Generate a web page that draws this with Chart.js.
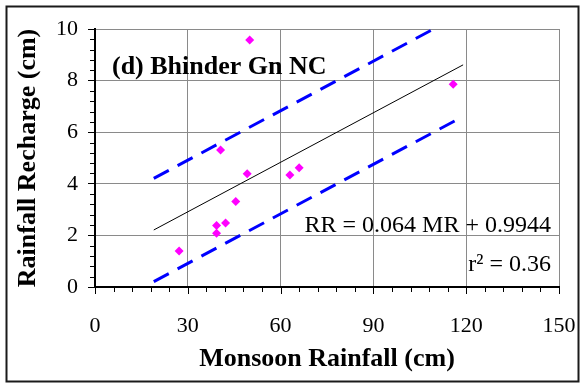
<!DOCTYPE html>
<html>
<head>
<meta charset="utf-8">
<script src="https://cdn.jsdelivr.net/npm/chart.js@4/dist/chart.umd.min.js"></script>
<style>
  html, body { margin: 0; padding: 0; background: #ffffff; }
  #wrap { width: 585px; height: 383px; }
</style>
</head>
<body>
<div id="wrap"><canvas id="c" width="585" height="383"></canvas></div>
<script>
// ---- data ----
const monsoonRainfall = [27.2, 39.3, 39.3, 42.2, 45.5, 40.6, 49.2, 50.0, 63.0, 66.0, 115.8];
const rainfallRecharge = [1.40, 2.38, 2.08, 2.48, 3.31, 5.31, 4.39, 9.57, 4.34, 4.62, 7.86];
const fitX = [19, 119];
const fitY = [2.21, 8.61];
const upperY = [4.21, 10.61];
const lowerY = [0.21, 6.61];
const xTicks = [0, 30, 60, 90, 120, 150];
const yTicks = [0, 2, 4, 6, 8, 10];
const panelLabel = '(d) Bhinder Gn NC';
const equationText = 'RR = 0.064 MR + 0.9944';
const r2Text = 'r\u00B2 = 0.36';
const xTitle = 'Monsoon Rainfall (cm)';
const yTitle = 'Rainfall Recharge (cm)';

const FONT = "'Liberation Serif', 'Times New Roman', serif";

const pts = monsoonRainfall.map((x, i) => ({ x, y: rainfallRecharge[i] }));
const toPts = (ys) => fitX.map((x, i) => ({ x, y: ys[i] }));

const decor = {
  id: 'decor',
  beforeDraw(chart) {
    const ctx = chart.ctx;
    ctx.save();
    ctx.fillStyle = '#ffffff';
    ctx.fillRect(0, 0, chart.width, chart.height);
    ctx.restore();
  },
  afterDraw(chart) {
    const ctx = chart.ctx;
    const xs = chart.scales.x, ys = chart.scales.y;
    const ca = chart.chartArea;
    ctx.save();
    // tick marks (major 7px, minor 5px)
    ctx.strokeStyle = '#000000';
    ctx.lineWidth = 1;
    ctx.beginPath();
    for (let i = 0; i <= 25; i++) {
      const len = (i % 5 === 0) ? 7 : 5;
      const px = Math.round(xs.getPixelForValue(i * 6)) + 0.5;
      ctx.moveTo(px, ca.bottom);
      ctx.lineTo(px, ca.bottom + len);
    }
    for (let i = 1; i < 25; i++) {
      if (i % 5 === 0) continue;
      const py = Math.round(ys.getPixelForValue(i * 0.4)) + 0.5;
      ctx.moveTo(ca.left - 5, py);
      ctx.lineTo(ca.left, py);
    }
    ctx.stroke();
    // annotations
    ctx.fillStyle = '#000000';
    ctx.textBaseline = 'alphabetic';
    ctx.font = "bold 26px " + FONT;
    ctx.textAlign = 'left';
    ctx.fillText(panelLabel, ca.left + 17, ca.top + 45);
    ctx.font = "24px " + FONT;
    ctx.textAlign = 'right';
    ctx.fillText(equationText, ca.right - 8, ca.top + 203);
    ctx.fillText(r2Text, ca.right - 8, ca.top + 242);
    // outer frame
    ctx.strokeStyle = '#1a1a1a';
    ctx.lineWidth = 2;
    ctx.strokeRect(6.5, 6.5, 572, 375);
    ctx.restore();
  }
};

new Chart(document.getElementById('c'), {
  type: 'scatter',
  data: {
    datasets: [
      {
        label: 'Observed',
        data: pts,
        pointStyle: 'rectRot',
        pointRadius: 4.5,
        backgroundColor: '#ff00ff',
        borderColor: '#ff00ff',
        borderWidth: 0,
        showLine: false
      },
      {
        label: 'Fit',
        type: 'line',
        data: toPts(fitY),
        borderColor: '#000000',
        borderWidth: 1,
        pointRadius: 0,
        fill: false
      },
      {
        label: 'Upper',
        type: 'line',
        data: toPts(upperY),
        borderColor: '#0000ff',
        borderWidth: 3,
        borderDash: [17, 10],
        pointRadius: 0,
        fill: false
      },
      {
        label: 'Lower',
        type: 'line',
        data: toPts(lowerY),
        borderColor: '#0000ff',
        borderWidth: 3,
        borderDash: [17, 10],
        pointRadius: 0,
        fill: false
      }
    ]
  },
  options: {
    responsive: false,
    animation: false,
    events: [],
    layout: { padding: { top: 29, right: 26, bottom: 0, left: 0 } },
    plugins: {
      legend: { display: false },
      tooltip: { enabled: false },
      title: { display: false }
    },
    scales: {
      x: {
        type: 'linear',
        min: 0, max: 150,
        afterBuildTicks(scale) { scale.ticks = xTicks.map(v => ({ value: v })); },
        afterFit(scale) { scale.height = 96; },
        grid: { color: '#8a8a8a', lineWidth: 1, tickColor: 'rgba(0,0,0,0)', tickLength: 26, tickWidth: 1 },
        border: { color: '#000000', width: 2 },
        ticks: { font: { family: FONT, size: 22 }, color: '#000000', padding: 0, maxRotation: 0, autoSkip: false },
        title: { display: true, text: xTitle, color: '#000000', font: { family: FONT, size: 26, weight: 'bold' }, padding: { top: 0, bottom: 8 } }
      },
      y: {
        type: 'linear',
        min: 0, max: 10,
        afterBuildTicks(scale) { scale.ticks = yTicks.map(v => ({ value: v })); },
        afterFit(scale) { scale.width = 95; },
        grid: { color: '#8a8a8a', lineWidth: 1, tickColor: '#000000', tickLength: 7, tickWidth: 1 },
        border: { color: '#000000', width: 2 },
        ticks: { font: { family: FONT, size: 22 }, color: '#000000', padding: 10, autoSkip: false },
        title: { display: true, text: yTitle, color: '#000000', font: { family: FONT, size: 26, weight: 'bold' }, padding: { top: 13, bottom: 0 } }
      }
    }
  },
  plugins: [decor]
});
</script>
</body>
</html>
